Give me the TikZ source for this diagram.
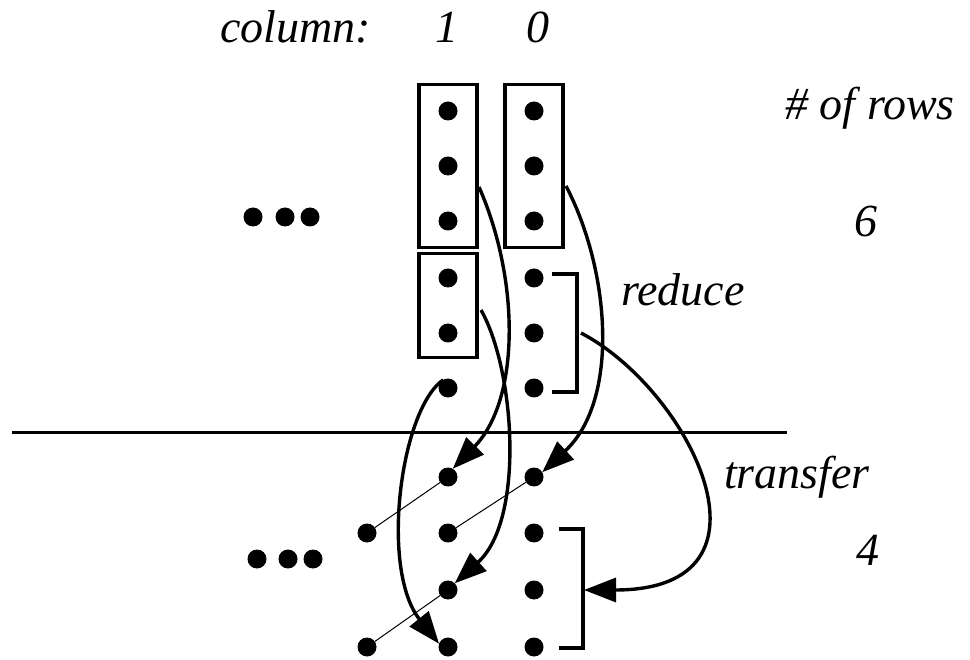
\documentclass[tikz,border=0pt]{standalone}
\usepackage{fontspec}
\setmainfont{Liberation Serif}
\newfontfamily\labelfont{LiberationSerif-Italic.ttf}
\usetikzlibrary{arrows.meta,fit,calc}
\begin{document}
\begin{tikzpicture}[x=1pt,y=-1pt,
  dot/.style={circle,fill=black,minimum size=19pt,inner sep=0pt,outer sep=0pt},
  bigdot/.style={circle,fill=black,minimum size=19pt,inner sep=0pt,outer sep=0pt},
  grp/.style={draw,line width=3.2pt,inner ysep=17pt},
  bracket/.style={draw,line width=3.2pt},
  rule/.style={line width=3pt},
  link/.style={line width=1pt},
  arr/.style={line width=3.4pt,-{Triangle[length=32pt,width=24pt]}},
  lbl/.style={font=\labelfont\fontsize{46}{52}\selectfont,inner sep=0pt,anchor=base}
]
\useasboundingbox (0,0) rectangle (970,660);

% upper part: six rows, columns 1 and 0
\foreach \r/\y in {1/111,2/166,3/221,4/278,5/333,6/388}{
  \node[dot] (t1\r) at (448,\y) {};
  \node[dot] (t0\r) at (534,\y) {};
}
% lower part: four rows
\foreach \r/\y in {1/477,2/533,3/590,4/647}{
  \node[dot] (b1\r) at (448,\y) {};
  \node[dot] (b0\r) at (534,\y) {};
}
\node[dot] (l2) at (367,533) {};
\node[dot] (l4) at (367,647) {};

% ellipses for further columns
\node[bigdot] (e1) at (253,217) {};
\node[bigdot] (e2) at (285,217) {};
\node[bigdot] (e3) at (310,217) {};
\node[bigdot] (f1) at (257,559) {};
\node[bigdot] (f2) at (288,559) {};
\node[bigdot] (f3) at (313,559) {};

% groups of three and two bits
\node[grp,inner xsep=19.5pt,fit=(t11)(t13)] (box1) {};
\node[grp,inner xsep=19.5pt,fit=(t01)(t03)] (box0) {};
\node[grp,inner xsep=19.5pt,inner ysep=15pt,fit=(t14)(t15)] (boxs) {};

% brackets marking the reduced group and its result
\coordinate (ra) at (552,274); \coordinate (rb) at (577,274);
\coordinate (rc) at (577,392); \coordinate (rd) at (552,392);
\draw[bracket] (ra) -- (rb) -- (rc) -- (rd);
\coordinate (qa) at (559,529); \coordinate (qb) at (583,529);
\coordinate (qc) at (583,648); \coordinate (qd) at (559,648);
\draw[bracket] (qa) -- (qb) -- (qc) -- (qd);
\coordinate (rmid) at ($(rb)!0.5!(rc)$);
\coordinate (qmid) at (584,590);

% separating line between stages
\coordinate (h1) at (12,433);
\coordinate (h2) at (787,433);
\draw[rule] (h1) -- (h2);

% carry/transfer links
\draw[link] (l2) -- (b11);
\draw[link] (b12) -- (b01);
\draw[link] (l4) -- (b13);

% reduction arrows
\coordinate (s1) at (479,187);
\coordinate (s0) at (566,186);
\coordinate (ss) at (481,310);
\draw[arr] (s1) .. controls (520,280) and (520,400) .. (b11.60);
\draw[arr] (s0) .. controls (610,270) and (620,400) .. (b01.30);
\draw[arr] (ss) .. controls (515,370) and (525,520) .. (b13.45);
\draw[arr] (t16.120) .. controls (400,410) and (380,570) .. (b14.160);
\draw[arr] ($(rmid)+(4,0)$) .. controls (690,390) and (790,590) .. (qmid);

% labels
\node[lbl,anchor=base west] (colhdr) at (220,43) {column:};
\node[lbl] (c1) at (447,43) {1};
\node[lbl] (c0) at (538,43) {0};
\node[lbl] (rows) at (870,120) {\# of rows};
\node[lbl] (n6) at (866,237) {6};
\node[lbl] (red) at (683,306) {reduce};
\node[lbl] (tr) at (797,489) {transfer};
\node[lbl] (n4) at (868,565) {4};
\end{tikzpicture}
\end{document}
